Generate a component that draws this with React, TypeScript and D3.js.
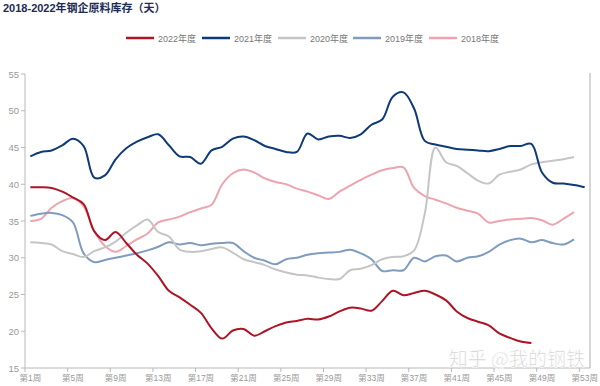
import React from "react";
import * as d3 from "d3";

// week categories and ticks
const weeks = d3.range(1, 54);
const xTickWeeks = [1, 5, 9, 13, 17, 21, 25, 29, 33, 37, 41, 45, 49, 53];
const yTicks = [15, 20, 25, 30, 35, 40, 45, 50, 55];

// values (days)
const s2022 = [39.6, 39.6, 39.5, 39.0, 38.2, 37.3, 33.6, 32.4, 33.5, 32.0, 30.4, 29.2, 27.5, 25.5, 24.6, 23.6, 22.5, 20.4, 19.0, 20.1,
  20.3, 19.4, 20.0, 20.7, 21.2, 21.4, 21.7, 21.6, 22.0, 22.7, 23.2, 23.1, 22.8, 24.1, 25.5, 24.9, 25.2, 25.5, 25.0, 24.2,
  22.7, 21.8, 21.3, 20.8, 19.7, 19.1, 18.6, 18.4];
const s2021 = [43.8, 44.4, 44.6, 45.3, 46.2, 45.2, 40.9, 41.2, 43.4, 44.9, 45.8, 46.4, 46.8, 45.3, 43.8, 43.7, 42.8, 44.6, 45.1, 46.2,
  46.5, 46.0, 45.2, 44.8, 44.4, 44.4, 46.9, 46.1, 46.5, 46.6, 46.3, 46.8, 48.1, 48.8, 51.9, 52.5, 50.3, 45.9, 45.4, 45.1,
  44.8, 44.7, 44.6, 44.5, 44.8, 45.2, 45.2, 45.5, 41.6, 40.2, 40.1, 39.9, 39.6];
const s2020 = [32.1, 32.0, 31.8, 30.9, 30.5, 30.1, 30.9, 31.4, 32.2, 33.4, 34.4, 35.2, 33.5, 32.9, 31.1, 30.8, 30.9, 31.2, 31.4, 30.7,
  29.8, 29.4, 29.0, 28.4, 28.0, 27.7, 27.6, 27.3, 27.1, 27.1, 28.3, 28.5, 29.0, 29.8, 30.1, 30.2, 31.0, 36.0, 45.0, 43.0,
  42.5, 41.5, 40.5, 40.1, 41.3, 41.7, 42.0, 42.7, 43.0, 43.2, 43.4, 43.7];
const s2019 = [35.7, 36.0, 36.1, 35.8, 34.8, 30.6, 29.4, 29.7, 30.0, 30.3, 30.6, 31.0, 31.5, 32.1, 31.8, 32.0, 31.7, 31.9, 32.0, 32.0,
  30.9, 30.0, 29.6, 29.1, 29.8, 30.0, 30.4, 30.6, 30.7, 30.8, 31.1, 30.6, 29.8, 28.2, 28.3, 28.3, 30.0, 29.5, 30.2, 30.3,
  29.5, 30.0, 30.2, 30.8, 31.8, 32.4, 32.6, 32.1, 32.4, 32.0, 31.8, 32.5];
const s2018 = [35.0, 35.3, 36.8, 37.7, 38.1, 37.0, 33.6, 31.6, 30.8, 31.6, 32.5, 33.3, 34.8, 35.2, 35.6, 36.2, 36.7, 37.2, 40.0, 41.5,
  42.0, 41.6, 40.8, 40.3, 40.0, 39.4, 39.0, 38.5, 38.0, 39.0, 39.8, 40.6, 41.3, 41.9, 42.2, 42.3, 39.5, 38.4, 37.9, 37.4,
  36.8, 36.4, 36.0, 34.8, 35.0, 35.2, 35.3, 35.4, 35.1, 34.5, 35.3, 36.2];

const seriesNames = ["2022年度", "2021年度", "2020年度", "2019年度", "2018年度"];
const seriesValues = [s2022, s2021, s2020, s2019, s2018];
const seriesColors = ["#ad1527", "#0f3a78", "#c5c5c5", "#7f9cbf", "#eea3ad"];

const FONT = "'Liberation Sans', Arial, 'Noto Sans CJK SC', sans-serif";

export default function App() {
  const W = 600;
  const H = 386;
  const left = 25;
  const right = 590;
  const top = 74;
  const bottom = 368;

  const x = d3.scaleBand<number>().domain(weeks).range([left, right]).padding(0);
  const cx = (w: number) => (x(w) as number) + x.bandwidth() / 2;
  const y = d3.scaleLinear().domain([15, 55]).range([bottom, top]);

  const line = d3
    .line<number>()
    .x((_, i) => cx(weeks[i]))
    .y((d) => y(d))
    .curve(d3.curveCatmullRom.alpha(0.5));

  const legendX = [126, 202, 278, 353, 429];

  return (
    <svg width={W} height={H} style={{ position: "absolute", left: 0, top: 0, background: "#fff" }} fontFamily={FONT}>
      <text x={3} y={12} fontSize={11} fontWeight="bold" fill="#1d2b55">
        2018-2022年钢企原料库存（天）
      </text>

      {/* legend */}
      {seriesNames.map((name, i) => (
        <g key={name} transform={`translate(${legendX[i]},38)`}>
          <line x1={0} x2={28} y1={0} y2={0} stroke={seriesColors[i]} strokeWidth={2.5} />
          <text x={32} y={3.5} fontSize={9} fill="#777">
            {name}
          </text>
        </g>
      ))}

      {/* y axis */}
      <line x1={left} x2={left} y1={top} y2={bottom} stroke="#b8b8b8" strokeWidth={1} />
      {yTicks.map((t) => (
        <g key={t}>
          <line x1={left - 4} x2={left} y1={y(t)} y2={y(t)} stroke="#b8b8b8" />
          <text x={left - 6} y={y(t) + 3.5} fontSize={9.5} fill="#999" textAnchor="end">
            {t}
          </text>
        </g>
      ))}

      {/* right border */}
      <line x1={right} x2={right} y1={top - 1} y2={bottom} stroke="#c8c8c8" strokeWidth={1.5} />

      {/* x axis */}
      <line x1={left} x2={right} y1={bottom} y2={bottom} stroke="#b8b8b8" strokeWidth={1} />
      {xTickWeeks.map((w) => (
        <g key={w}>
          <line x1={x(w) as number} x2={x(w) as number} y1={bottom} y2={bottom + 4} stroke="#b8b8b8" />
          <text x={cx(w)} y={bottom + 13} fontSize={8.5} fill="#999" textAnchor="middle">
            {`第${w}周`}
          </text>
        </g>
      ))}

      {/* lines, oldest first */}
      {seriesValues
        .map((vals, i) => ({ vals, i }))
        .reverse()
        .map(({ vals, i }) => (
          <path
            key={seriesNames[i]}
            d={line(vals) || ""}
            fill="none"
            stroke={seriesColors[i]}
            strokeWidth={2}
            strokeLinejoin="round"
          />
        ))}

      {/* watermark */}
      <text
        x={585}
        y={366}
        fontSize={19}
        textAnchor="end"
        fill="#cfcfcf"
        stroke="#ffffff"
        strokeWidth={0.6}
        fontFamily="'Noto Sans CJK SC', sans-serif"
      >
        知乎 @我的钢铁
      </text>
    </svg>
  );
}
